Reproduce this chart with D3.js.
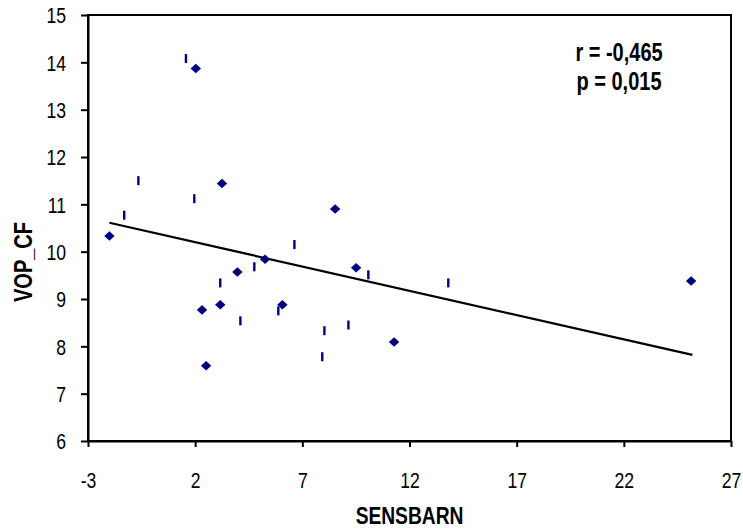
<!DOCTYPE html>
<html>
<head>
<meta charset="utf-8">
<script src="https://cdn.jsdelivr.net/npm/d3@7"></script>
<style>
  html, body { margin: 0; padding: 0; background: #fff; }
  svg { display: block; }
  text { font-family: "Liberation Sans", Arial, sans-serif; fill: #000; }
</style>
</head>
<body>
<svg id="chart" width="743" height="529"></svg>
<script>
// ---- data ----
const xTicks = [-3, 2, 7, 12, 17, 22, 27];
const yTicks = [6, 7, 8, 9, 10, 11, 12, 13, 14, 15];
const diamondX = [2.03, 3.25, 8.53, -2.0, 5.26, 3.97, 9.51, 2.32, 3.17, 6.07, 2.51, 11.28, 25.14];
const diamondY = [13.87, 11.44, 10.90, 10.33, 9.84, 9.57, 9.66, 8.77, 8.88, 8.88, 7.59, 8.09, 9.38];
const dashX = [1.57, -0.65, 1.96, -1.31, 6.63, 4.76, 10.08, 3.17, 5.88, 4.11, 8.03, 9.15, 7.93, 13.81];
const dashY = [14.08, 11.50, 11.12, 10.77, 10.15, 9.68, 9.51, 9.34, 8.75, 8.54, 8.33, 8.45, 7.78, 9.34];
const trendX = [-2.0, 25.2];
const trendY = [10.61, 7.82];
const statLines = ["r = -0,465", "p = 0,015"];
const xTitle = "SENSBARN";
const yTitle = "VOP_CF";

// ---- layout ----
const svg = d3.select("#chart");
const pL = 88, pR = 731, pT = 15, pB = 441;
const x = d3.scaleLinear().domain([-3, 27]).range([pL, pR]);
const y = d3.scaleLinear().domain([6, 15]).range([pB, pT]);
const navy = "#000080";
const narrow = 0.8;   // emulate a narrow (condensed) face

// frame
svg.append("rect")
  .attr("x", pL).attr("y", pT)
  .attr("width", pR - pL).attr("height", pB - pT)
  .attr("fill", "none").attr("stroke", "#000").attr("stroke-width", 2);

// axes
const fmt = d => String(d);
const xAxis = svg.append("g").attr("transform", `translate(0,${pB})`)
  .call(d3.axisBottom(x).tickValues(xTicks).tickFormat(fmt).tickSize(6).tickPadding(25).tickSizeOuter(0));
const yAxis = svg.append("g").attr("transform", `translate(${pL},0)`)
  .call(d3.axisLeft(y).tickValues(yTicks).tickFormat(fmt).tickSize(7).tickPadding(14).tickSizeOuter(0));
[xAxis, yAxis].forEach(g => {
  g.select(".domain").attr("stroke", "#000").attr("stroke-width", 2);
  g.selectAll(".tick line").attr("stroke", "#000").attr("stroke-width", 2);
  g.selectAll(".tick text")
    .style("font-family", '"Liberation Sans", Arial, sans-serif')
    .style("font-size", "22px").attr("fill", "#222")
    .attr("transform", `scale(${narrow},1)`);
});
yAxis.selectAll(".tick text").attr("x", -22 / narrow).attr("dy", "0.36em");

// trend line
svg.append("line")
  .attr("x1", x(trendX[0])).attr("y1", y(trendY[0]))
  .attr("x2", x(trendX[1])).attr("y2", y(trendY[1]))
  .attr("stroke", "#000").attr("stroke-width", 2.2);

// dash markers
svg.append("g").selectAll("line").data(dashX.map((d, i) => [d, dashY[i]]))
  .join("line")
  .attr("x1", d => x(d[0])).attr("x2", d => x(d[0]))
  .attr("y1", d => y(d[1]) - 4.5).attr("y2", d => y(d[1]) + 4.5)
  .attr("stroke", navy).attr("stroke-width", 2.4);

// diamond markers
svg.append("g").selectAll("path").data(diamondX.map((d, i) => [d, diamondY[i]]))
  .join("path")
  .attr("transform", d => `translate(${x(d[0])},${y(d[1])})`)
  .attr("d", "M0,-4.8L5.2,0L0,4.8L-5.2,0Z")
  .attr("fill", navy);

// stats text
svg.append("g").selectAll("text").data(statLines).join("text")
  .attr("transform", (d, i) => `translate(619,${61 + i * 29}) scale(${narrow},1)`)
  .attr("text-anchor", "middle")
  .style("font-size", "25px").style("font-weight", "bold")
  .text(d => d);

// axis titles
svg.append("text")
  .attr("transform", `translate(${(pL + pR) / 2},524) scale(${narrow},1)`)
  .attr("text-anchor", "middle")
  .style("font-size", "24px").style("font-weight", "bold")
  .text(xTitle);
svg.append("text")
  .attr("transform", `translate(32,262) rotate(-90) scale(${narrow},1)`)
  .attr("text-anchor", "middle")
  .style("font-size", "25px").style("font-weight", "bold")
  .text(yTitle);
</script>
</body>
</html>
